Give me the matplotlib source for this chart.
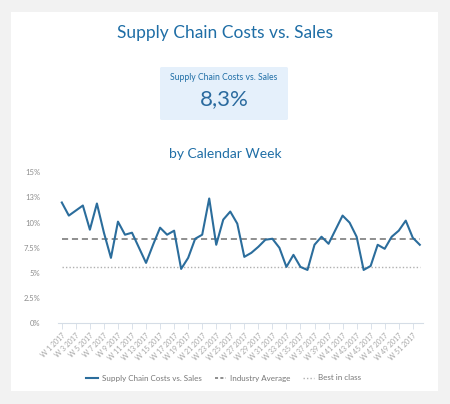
import matplotlib
matplotlib.use("Agg")
import matplotlib.pyplot as plt
from matplotlib.patches import Rectangle, FancyBboxPatch
from matplotlib.lines import Line2D

plt.rcParams['font.family'] = ['Lato', 'DejaVu Sans']

weeks = [f"W {i} 2017" for i in range(1, 53)]
costs = [12.0, 10.7, 11.2, 11.7, 9.3, 11.9, 9.0, 6.5, 10.1, 8.8, 9.0, 7.5,
         6.0, 7.8, 9.5, 8.8, 9.2, 5.4, 6.5, 8.4, 8.8, 12.4, 7.8, 10.3,
         11.1, 9.9, 6.6, 7.0, 7.6, 8.3, 8.4, 7.5, 5.6, 6.8, 5.6, 5.3,
         7.8, 8.6, 7.9, 9.3, 10.7, 10.0, 8.6, 5.3, 5.7, 7.8, 7.4, 8.6,
         9.2, 10.2, 8.5, 7.8]
industry_avg = 8.4
best_in_class = 5.6
kpi_value = "8,3%"
yticks = [0, 2.5, 5, 7.5, 10, 12.5, 15]
ytick_labels = ["0%", "2.5%", "5%", "7.5%", "10%", "13%", "15%"]

W, H = 450, 404
fig = plt.figure(figsize=(W / 100, H / 100), dpi=100)
fig.patch.set_facecolor("#f2f2f2")

def fx(px):
    return px / W

def fy(py):
    return 1 - py / H

# white card
fig.patches.append(Rectangle((fx(11), fy(391)), fx(438) - fx(11), fy(12) - fy(391),
                             transform=fig.transFigure, facecolor="white",
                             edgecolor="none", zorder=-10))
# KPI box
fig.patches.append(FancyBboxPatch((fx(160), fy(120)), fx(288) - fx(160), fy(67) - fy(120),
                                  boxstyle="round,pad=0,rounding_size=0.004",
                                  transform=fig.transFigure, facecolor="#e5f0fb",
                                  edgecolor="none", zorder=-9))

blue = "#1f6ea6"
fig.text(0.5, fy(33), "Supply Chain Costs vs. Sales", ha="center", va="center",
         fontsize=12.5, color=blue)
fig.text(fx(224), fy(77), "Supply Chain Costs vs. Sales", ha="center", va="center",
         fontsize=6.2, color=blue)
fig.text(fx(224), fy(99), kpi_value, ha="center", va="center",
         fontsize=16, color="#2a6a9e")
fig.text(0.5, fy(154), "by Calendar Week", ha="center", va="center",
         fontsize=10, color=blue)

ax = fig.add_axes([fx(58.3), fy(323.3), fx(423.3) - fx(58.3), fy(172.3) - fy(323.3)])
ax.set_facecolor("none")
ax.set_zorder(5)
x = list(range(len(costs)))
ax.plot(x, costs, color="#2b6d9c", lw=1.5, zorder=3, label="Supply Chain Costs vs. Sales")
ax.plot([x[0], x[-1]], [industry_avg, industry_avg], color="#707070", lw=1.1,
        ls=(0, (4, 2.5)), zorder=2, label="Industry Average")
ax.plot([x[0], x[-1]], [best_in_class, best_in_class], color="#b0b0b0", lw=1.0,
        ls=(0, (1, 1.5)), zorder=2, label="Best in class")

ax.set_xlim(-0.5, 51.5)
ax.set_ylim(0, 15)
ax.set_yticks(yticks)
ax.set_yticklabels(ytick_labels)
ax.set_xticks(x[::2])
ax.set_xticklabels(weeks[::2], rotation=45, ha="right", rotation_mode="anchor")
for s in ["top", "right", "left"]:
    ax.spines[s].set_visible(False)
ax.spines["bottom"].set_color("#d5dde6")
ax.spines["bottom"].set_linewidth(0.8)
ax.tick_params(axis="y", length=0, pad=13, labelsize=5.5, labelcolor="#8c8c8c")
ax.tick_params(axis="x", length=4, width=0.6, color="#d5dde6", pad=2,
               labelsize=5, labelcolor="#a5a5a5")
for lab in ax.get_yticklabels():
    lab.set_ha("right")

handles = [Line2D([], [], color="#2b6d9c", lw=1.5),
           Line2D([], [], color="#707070", lw=1.1, ls=(0, (2, 1.5))),
           Line2D([], [], color="#b0b0b0", lw=1.0, ls=(0, (1, 1.5)))]
labels = ["Supply Chain Costs vs. Sales", "Industry Average", "Best in class"]
fig.legend(handles, labels, loc="center", bbox_to_anchor=(fx(224), fy(378)), ncol=3,
           frameon=False, fontsize=5.8, labelcolor="#777777", handlelength=1.4,
           columnspacing=1.6, handletextpad=0.5)

fig.savefig("out.png", dpi=100, facecolor=fig.get_facecolor())
